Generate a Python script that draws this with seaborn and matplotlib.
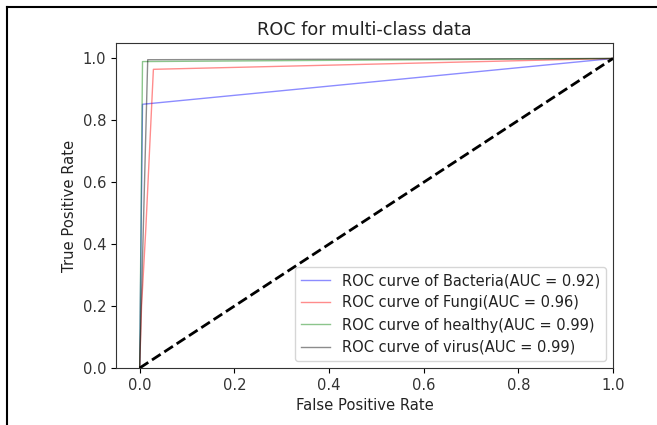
import matplotlib
matplotlib.use("Agg")
import matplotlib.pyplot as plt
from matplotlib.lines import Line2D
import seaborn as sns
import pandas as pd

classes = ["Bacteria", "Fungi", "healthy", "virus"]
auc_values = [0.92, 0.96, 0.99, 0.99]
fpr_bacteria = [0.0, 0.006, 1.0]
tpr_bacteria = [0.0, 0.852, 1.0]
fpr_fungi = [0.0, 0.004, 0.013, 0.029, 1.0]
tpr_fungi = [0.0, 0.2, 0.45, 0.965, 1.0]
fpr_healthy = [0.0, 0.006, 1.0]
tpr_healthy = [0.0, 0.99, 1.0]
fpr_virus = [0.0, 0.017, 1.0]
tpr_virus = [0.0, 0.996, 1.0]
colors = ["blue", "red", "green", "black"]

fprs = [fpr_bacteria, fpr_fungi, fpr_healthy, fpr_virus]
tprs = [tpr_bacteria, tpr_fungi, tpr_healthy, tpr_virus]

plt.rcParams["font.family"] = ["DejaVu Sans"]
fig = plt.figure(figsize=(6.57, 4.25), dpi=100)
ax = fig.add_axes([116 / 657, 1 - 368 / 425, (613 - 116) / 657, (368 - 43) / 425])

for name, auc, fpr, tpr, c in zip(classes, auc_values, fprs, tprs, colors):
    df = pd.DataFrame({"fpr": fpr, "tpr": tpr})
    sns.lineplot(data=df, x="fpr", y="tpr", ax=ax, sort=False, estimator=None,
                 color=c, lw=1, alpha=0.45,
                 label=f"ROC curve of {name}(AUC = {auc:.2f})")

diag = pd.DataFrame({"x": [0, 1], "y": [0, 1]})
sns.lineplot(data=diag, x="x", y="y", ax=ax, color="black", lw=2,
             linestyle="--", sort=False, estimator=None)

ax.set_xlim(-0.05, 1.0)
ax.set_ylim(0.0, 1.05)
ax.set_xlabel("False Positive Rate", fontsize=10.6, color="#222222")
ax.set_ylabel("True Positive Rate", fontsize=10.6, color="#222222")
ax.set_title("ROC for multi-class data", fontsize=12.7, color="#222222")
ax.tick_params(labelsize=10.6, labelcolor="#333333")
for s in ax.spines.values():
    s.set_color("#333333")
ax.legend(loc="lower right", fontsize=10.5, labelcolor="#222222")

# screenshot frame lines
fig.add_artist(Line2D([7 / 657, 7 / 657], [0, 1 - 7 / 425], color="black", lw=1.5))
fig.add_artist(Line2D([7 / 657, 1], [1 - 7 / 425, 1 - 7 / 425], color="black", lw=1.5))

fig.savefig("out.png", dpi=100)
